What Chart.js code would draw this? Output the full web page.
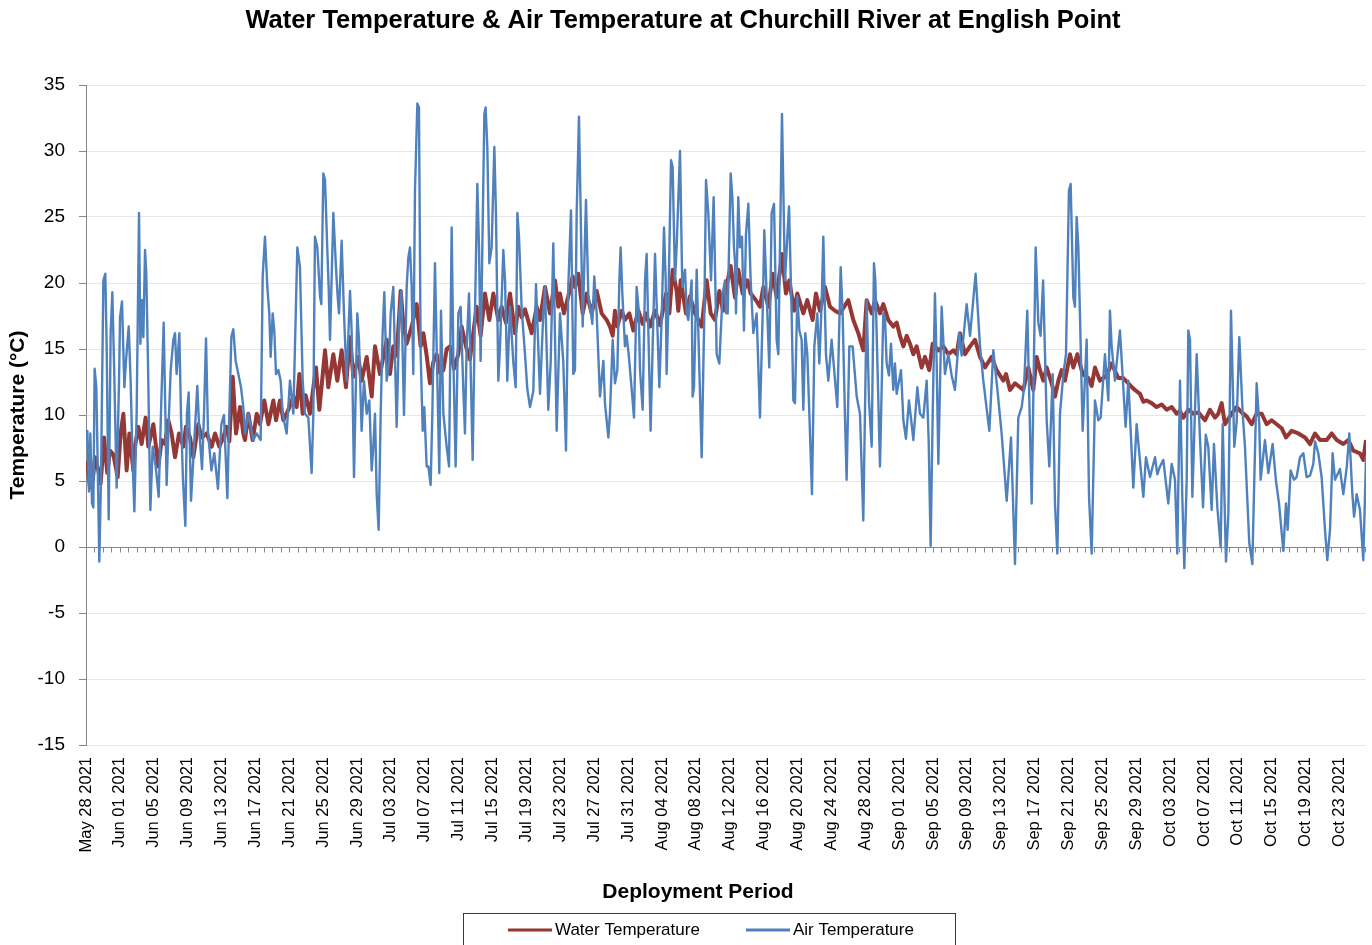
<!DOCTYPE html>
<html>
<head>
<meta charset="utf-8">
<title>Water Temperature & Air Temperature at Churchill River at English Point</title>
<script src="https://cdn.jsdelivr.net/npm/chart.js@4.4.1/dist/chart.umd.min.js"></script>
<style>
  html, body { margin: 0; padding: 0; background: #fff; }
  #wrap { width: 1372px; height: 945px; position: relative; }
</style>
</head>
<body>
<div id="wrap"><canvas id="chart"></canvas></div>
<script>
// ---- data (x = days since May 28 2021 00:00) ----
const tickLabels = [
  'May 28 2021', 'Jun 01 2021', 'Jun 05 2021', 'Jun 09 2021', 'Jun 13 2021', 'Jun 17 2021',
  'Jun 21 2021', 'Jun 25 2021', 'Jun 29 2021', 'Jul 03 2021', 'Jul 07 2021', 'Jul 11 2021',
  'Jul 15 2021', 'Jul 19 2021', 'Jul 23 2021', 'Jul 27 2021', 'Jul 31 2021', 'Aug 04 2021',
  'Aug 08 2021', 'Aug 12 2021', 'Aug 16 2021', 'Aug 20 2021', 'Aug 24 2021', 'Aug 28 2021',
  'Sep 01 2021', 'Sep 05 2021', 'Sep 09 2021', 'Sep 13 2021', 'Sep 17 2021', 'Sep 21 2021',
  'Sep 25 2021', 'Sep 29 2021', 'Oct 03 2021', 'Oct 07 2021', 'Oct 11 2021', 'Oct 15 2021',
  'Oct 19 2021', 'Oct 23 2021'
];
const lastDay = 151.12;

const waterDays = [
  0, 0.28, 0.47, 0.79, 1.06, 1.46, 1.73, 2.13, 2.52, 2.83, 3.23, 3.74, 4.09, 4.41, 4.8, 5.12, 5.59, 5.78, 6.18, 6.57,
  7.04, 7.36, 7.95, 8.54, 8.93, 9.33, 9.72, 10.11, 10.51, 10.98, 11.49, 11.8, 12.28, 12.67, 13.26, 13.66, 14.25, 14.84, 15.23, 15.74,
  16.21, 16.6, 16.92, 17.32, 17.71, 18.18, 18.57, 18.77, 19.16, 19.68, 20.15, 20.54, 21.05, 21.53, 22.12, 22.43, 22.9, 23.3, 23.89, 24.48,
  24.87, 25.19, 25.58, 25.93, 26.44, 27.15, 27.55, 28.22, 28.61, 29.2, 29.67, 30.18, 30.69, 31.17, 31.56, 32.15, 32.54, 33.14, 33.73, 34.12,
  34.71, 35.5, 35.89, 36.28, 36.68, 37.15, 37.46, 37.86, 38.45, 39.04, 39.51, 39.83, 40.22, 40.61, 41.0, 41.4, 41.79, 42.19, 42.58, 42.97,
  43.45, 43.96, 44.35, 44.86, 45.33, 46.12, 46.59, 47.1, 47.62, 48.09, 48.68, 49.07, 49.58, 50.06, 50.65, 51.04, 51.44, 51.83, 52.62, 53.21,
  53.6, 54.19, 54.78, 55.37, 55.76, 55.96, 56.43, 56.94, 57.46, 57.73, 58.12, 58.64, 59.11, 59.7, 60.29, 60.88, 61.47, 61.86, 62.18, 62.45,
  62.73, 63.24, 63.63, 64.15, 64.62, 65.21, 65.72, 66.11, 66.59, 67.18, 67.77, 68.48, 68.87, 69.26, 69.73, 69.93, 70.21, 70.84, 71.31, 71.9,
  72.69, 73.28, 73.75, 74.26, 74.77, 75.2, 75.44, 76.11, 76.62, 77.01, 77.53, 78.08, 78.47, 79.1, 79.57, 79.97, 80.56, 81.07, 81.54, 82.17,
  82.64, 83.04, 83.59, 83.98, 84.69, 85.16, 85.79, 86.18, 86.66, 87.25, 87.84, 88.43, 89.02, 90.0, 90.59, 91.18, 91.77, 92.17, 92.76, 93.15,
  93.74, 94.13, 94.72, 95.31, 95.71, 96.1, 96.5, 96.89, 97.28, 97.68, 98.07, 98.66, 99.05, 99.56, 99.96, 100.63, 101.22, 101.81, 102.4, 102.79,
  103.18, 103.78, 104.37, 104.96, 105.55, 106.14, 106.92, 107.51, 108.3, 108.62, 109.09, 109.68, 110.27, 110.66, 111.25, 111.84, 112.24, 112.63, 113.02, 113.42,
  114.01, 114.4, 114.8, 115.19, 115.58, 116.17, 116.57, 117.04, 117.67, 118.34, 118.73, 119.12, 119.71, 120.5, 121.09, 121.88, 122.47, 123.06, 123.65, 124.04,
  124.44, 124.83, 125.22, 125.81, 126.4, 126.99, 127.58, 128.18, 128.77, 129.16, 129.55, 130.14, 130.73, 131.32, 132.11, 132.7, 133.29, 133.68, 134.08, 134.47,
  135.26, 135.85, 136.44, 137.03, 137.62, 138.21, 138.8, 139.39, 139.98, 140.57, 141.16, 141.67, 142.34, 143.13, 143.92, 144.51, 145.1, 145.69, 146.48, 147.07,
  147.66, 148.44, 149.03, 149.62, 150.41, 150.8, 151.12
];
const waterTemps = [
  6.5, 5.6, 4.5, 5.0, 6.8, 5.8, 4.8, 8.3, 5.6, 7.3, 7.0, 5.3, 8.6, 10.1, 5.8, 8.6, 5.8, 7.6, 9.1, 7.8,
  9.8, 7.6, 9.3, 6.1, 8.1, 7.8, 9.6, 8.6, 6.8, 8.6, 7.6, 9.1, 8.3, 6.8, 9.3, 8.3, 8.6, 7.6, 8.6, 7.6,
  8.3, 9.1, 8.0, 12.9, 8.6, 10.6, 8.6, 8.1, 10.1, 8.1, 10.1, 9.3, 11.1, 9.3, 11.1, 9.6, 11.1, 9.6, 10.4, 11.4,
  10.6, 13.1, 10.1, 11.5, 10.1, 13.6, 10.4, 14.9, 12.1, 14.6, 12.6, 14.9, 12.1, 15.9, 12.9, 14.4, 12.6, 14.4, 11.4, 15.2,
  13.1, 15.7, 13.1, 15.2, 14.5, 19.4, 17.0, 15.4, 16.7, 18.4, 15.2, 16.2, 14.5, 12.4, 14.0, 14.6, 13.2, 13.4, 15.0, 15.2,
  13.5, 14.6, 16.7, 15.2, 14.2, 18.2, 16.0, 19.2, 17.2, 19.2, 17.2, 18.2, 17.0, 19.2, 16.2, 18.2, 17.4, 18.0, 16.2, 18.2,
  17.2, 19.7, 17.7, 20.2, 18.2, 19.2, 17.7, 19.0, 20.5, 19.7, 20.7, 17.7, 19.2, 17.7, 19.4, 17.7, 17.2, 16.7, 16.0, 17.9,
  16.7, 17.9, 17.2, 17.7, 16.4, 17.9, 16.9, 17.7, 16.7, 17.9, 16.8, 19.2, 17.7, 21.0, 19.4, 17.9, 20.2, 17.7, 19.0, 17.7,
  16.7, 20.2, 17.7, 17.2, 19.4, 17.9, 19.2, 21.3, 18.9, 21.0, 19.2, 20.2, 19.2, 18.7, 18.2, 19.7, 18.2, 20.7, 18.9, 22.2,
  19.2, 20.2, 17.9, 19.2, 17.7, 18.7, 17.2, 19.2, 17.9, 19.7, 18.2, 17.9, 17.7, 18.7, 17.2, 16.2, 14.9, 18.7, 17.7, 18.7,
  17.7, 18.4, 17.2, 16.7, 17.0, 16.0, 15.2, 16.0, 15.4, 14.6, 15.2, 13.6, 14.4, 13.4, 15.4, 14.9, 15.2, 14.6, 14.9, 14.6,
  16.2, 14.6, 15.2, 15.7, 14.4, 13.6, 14.4, 13.4, 12.6, 13.1, 11.9, 12.4, 12.1, 11.9, 13.6, 11.9, 14.4, 13.4, 12.6, 13.6,
  12.4, 11.4, 12.6, 13.4, 12.6, 14.6, 13.6, 14.6, 13.1, 12.8, 12.2, 13.6, 12.6, 13.0, 13.9, 12.8, 12.8, 12.4, 12.0, 11.8,
  11.6, 11.0, 11.1, 10.9, 10.6, 10.8, 10.4, 10.6, 10.1, 10.3, 9.8, 10.4, 10.1, 10.2, 9.6, 10.4, 9.8, 10.1, 10.9, 9.3,
  10.1, 10.6, 10.2, 9.9, 9.3, 10.1, 10.1, 9.3, 9.6, 9.3, 9.0, 8.3, 8.8, 8.6, 8.3, 7.8, 8.6, 8.1, 8.1, 8.6,
  8.1, 7.8, 8.1, 7.3, 7.1, 6.6, 8.1
];

const airDays = [
  0, 0.16, 0.35, 0.51, 0.71, 0.87, 1.02, 1.22, 1.38, 1.57, 1.77, 2.05, 2.28, 2.44, 2.68, 2.91, 3.11, 3.31, 3.62, 3.9,
  4.02, 4.25, 4.53, 4.72, 5.04, 5.27, 5.51, 5.71, 5.98, 6.26, 6.42, 6.61, 6.77, 6.97, 7.12, 7.32, 7.6, 7.87, 8.23, 8.58,
  8.85, 9.17, 9.37, 9.52, 9.8, 10.0, 10.31, 10.51, 10.7, 11.02, 11.22, 11.45, 11.73, 11.92, 12.12, 12.4, 12.75, 13.14, 13.38, 13.7,
  13.93, 14.17, 14.4, 14.8, 15.15, 15.58, 15.98, 16.29, 16.69, 16.92, 17.16, 17.39, 17.67, 17.98, 18.3, 18.57, 18.77, 19.16, 19.75, 20.15,
  20.62, 20.86, 21.13, 21.41, 21.64, 21.8, 22.04, 22.23, 22.43, 22.71, 22.98, 23.22, 23.69, 24.08, 24.48, 24.95, 25.26, 25.58, 25.85, 26.25,
  26.64, 26.84, 27.03, 27.31, 27.63, 27.78, 28.02, 28.22, 28.49, 28.65, 28.81, 29.2, 29.51, 29.71, 29.87, 30.18, 30.46, 30.77, 31.17, 31.36,
  31.64, 32.03, 32.23, 32.54, 32.82, 33.14, 33.45, 33.73, 33.92, 34.12, 34.32, 34.55, 34.79, 35.02, 35.22, 35.5, 35.77, 35.97, 36.28, 36.68,
  36.99, 37.23, 37.54, 37.86, 38.05, 38.25, 38.45, 38.64, 38.84, 39.12, 39.31, 39.51, 39.75, 39.94, 40.22, 40.42, 40.69, 40.89, 41.2, 41.4,
  41.71, 41.91, 42.19, 42.58, 42.86, 43.17, 43.37, 43.64, 43.96, 44.23, 44.55, 44.74, 44.94, 45.22, 45.65, 45.92, 46.2, 46.4, 46.59, 47.03,
  47.18, 47.38, 47.62, 47.89, 48.21, 48.4, 48.68, 48.88, 49.27, 49.47, 49.74, 50.06, 50.45, 50.73, 50.93, 51.12, 51.44, 51.83, 52.1, 52.42,
  52.81, 53.13, 53.6, 53.99, 54.19, 54.58, 54.86, 55.17, 55.57, 55.96, 56.35, 56.67, 56.94, 57.26, 57.53, 57.73, 57.93, 58.2, 58.44, 58.64,
  59.03, 59.31, 59.58, 59.78, 60.01, 60.29, 60.68, 61.08, 61.27, 61.67, 61.86, 62.18, 62.45, 62.73, 62.97, 63.12, 63.32, 63.63, 63.83, 64.07,
  64.34, 64.7, 65.01, 65.25, 65.41, 65.72, 66.0, 66.19, 66.66, 66.9, 67.18, 67.69, 67.96, 68.24, 68.44, 68.55, 68.75, 69.07, 69.26, 69.54,
  69.73, 70.13, 70.4, 70.72, 70.92, 71.11, 71.5, 71.62, 71.78, 72.1, 72.69, 73.0, 73.2, 73.47, 73.79, 74.1, 74.46, 74.77, 75.16, 75.44,
  75.56, 75.76, 76.11, 76.31, 76.5, 76.62, 76.74, 77.01, 77.21, 77.45, 77.68, 77.92, 78.2, 78.47, 78.79, 79.18, 79.57, 79.89, 80.08, 80.44,
  80.67, 80.95, 81.23, 81.54, 81.74, 82.17, 82.52, 83.0, 83.31, 83.51, 83.7, 83.98, 84.22, 84.49, 84.69, 84.92, 85.16, 85.4, 85.71, 85.99,
  86.34, 86.58, 86.85, 87.05, 87.36, 87.64, 88.03, 88.7, 89.1, 89.33, 89.61, 89.8, 90.12, 90.51, 90.99, 91.38, 91.77, 92.17, 92.44, 92.76,
  93.03, 93.19, 93.74, 94.13, 94.33, 94.53, 94.8, 95.04, 95.31, 95.51, 95.71, 96.22, 96.5, 96.81, 97.16, 97.48, 97.68, 98.15, 98.46, 98.86,
  99.25, 99.49, 99.72, 99.96, 100.23, 100.43, 100.63, 101.02, 101.41, 101.81, 102.2, 102.59, 103.1, 103.38, 103.97, 104.37, 105.03, 105.55, 105.94, 106.33,
  106.65, 107.12, 107.59, 108.1, 108.7, 109.21, 109.68, 110.07, 110.47, 110.74, 111.13, 111.65, 112.12, 112.43, 112.7, 113.0, 113.42, 113.73, 114.13, 114.4,
  114.68, 114.99, 115.39, 115.7, 116.05, 116.25, 116.57, 116.76, 116.96, 117.16, 117.67, 118.14, 118.42, 118.73, 119.12, 119.52, 119.79, 120.3, 120.7, 120.89,
  121.09, 121.48, 122.07, 122.74, 123.06, 123.65, 124.04, 124.44, 124.83, 125.14, 125.62, 126.21, 126.48, 126.8, 127.19, 127.78, 128.18, 128.57, 128.84, 129.16,
  129.43, 129.67, 129.95, 130.14, 130.34, 130.62, 131.13, 131.5, 131.88, 132.2, 132.5, 132.9, 133.17, 133.57, 133.96, 134.2, 134.59, 134.87, 135.18, 135.57,
  135.85, 136.16, 136.56, 136.83, 137.34, 137.7, 137.93, 138.21, 138.52, 138.68, 139.19, 139.59, 140.1, 140.49, 140.85, 141.36, 141.67, 141.87, 142.22, 142.62,
  142.93, 143.33, 143.72, 144.11, 144.51, 144.9, 145.1, 145.49, 145.88, 146.28, 146.55, 146.87, 147.18, 147.46, 148.05, 148.44, 148.84, 149.15, 149.51, 149.71,
  150.02, 150.41, 150.8, 151.12
];
const airTemps = [
  8.0, 8.8, 4.2, 8.6, 3.3, 3.0, 13.5, 12.1, 6.3, -1.1, 5.1, 20.2, 20.7, 15.2, 2.1, 16.2, 19.3, 13.9, 4.5, 12.6,
  17.4, 18.6, 12.1, 14.1, 16.7, 12.6, 6.3, 2.7, 10.1, 25.3, 15.4, 18.7, 15.9, 22.5, 20.7, 13.9, 2.8, 7.6, 6.1, 3.8,
  10.1, 17.0, 10.1, 4.7, 10.1, 13.4, 15.7, 16.2, 13.1, 16.2, 9.8, 5.1, 1.6, 10.1, 11.7, 3.5, 7.6, 12.2, 8.8, 5.9,
  10.1, 15.8, 8.8, 5.8, 7.1, 4.4, 9.3, 10.0, 3.7, 10.1, 15.9, 16.5, 14.1, 13.1, 12.1, 10.6, 8.6, 10.1, 8.1, 8.6,
  8.1, 20.5, 23.5, 19.7, 17.7, 14.4, 17.7, 16.4, 13.1, 13.4, 12.6, 10.1, 8.6, 12.6, 10.1, 22.7, 21.2, 12.6, 10.1, 9.8,
  5.6, 10.1, 23.5, 22.7, 19.0, 18.4, 28.3, 27.8, 22.5, 19.7, 15.7, 25.3, 21.2, 19.0, 17.7, 23.2, 17.7, 12.6, 19.4, 16.4,
  5.3, 17.7, 15.7, 8.8, 12.6, 10.1, 11.1, 5.8, 7.6, 10.1, 4.0, 1.3, 10.1, 16.2, 19.3, 12.6, 13.9, 17.7, 19.7, 9.1,
  17.7, 19.4, 10.0, 19.7, 21.9, 22.7, 19.7, 13.1, 27.0, 33.6, 33.3, 14.6, 8.8, 10.6, 6.1, 6.1, 4.7, 10.1, 21.5, 15.2,
  5.6, 17.9, 10.1, 7.6, 6.1, 24.2, 14.4, 6.1, 17.7, 18.2, 11.9, 8.6, 15.2, 19.2, 6.6, 17.7, 27.5, 22.7, 14.1, 32.8,
  33.3, 30.3, 21.5, 22.7, 30.3, 25.3, 12.6, 15.2, 22.5, 20.2, 12.6, 18.2, 14.0, 12.1, 25.3, 23.5, 18.0, 14.6, 12.0, 10.6,
  11.8, 19.9, 11.6, 17.7, 19.7, 10.4, 14.0, 23.0, 8.8, 17.7, 14.0, 7.3, 19.7, 25.5, 13.1, 13.4, 25.3, 32.6, 24.0, 16.7,
  26.3, 19.0, 17.9, 16.9, 20.5, 17.7, 11.4, 14.1, 10.9, 8.3, 10.1, 15.7, 12.4, 13.4, 20.2, 22.7, 19.2, 15.2, 16.0, 14.6,
  12.6, 9.8, 19.7, 18.0, 13.4, 10.4, 20.2, 22.2, 8.8, 15.2, 22.2, 12.1, 17.2, 24.2, 20.2, 13.1, 18.2, 29.3, 28.8, 20.2,
  22.7, 30.0, 19.7, 21.0, 17.7, 17.2, 20.2, 11.4, 12.1, 21.0, 6.8, 17.7, 27.8, 25.3, 20.2, 26.5, 14.6, 13.9, 19.2, 20.2,
  17.7, 17.7, 28.3, 26.5, 22.7, 21.7, 17.7, 26.5, 22.7, 23.5, 16.4, 23.7, 26.0, 20.2, 16.2, 17.7, 9.8, 17.7, 24.0, 17.7,
  13.6, 25.3, 26.0, 15.7, 14.6, 32.8, 20.2, 25.8, 17.7, 11.1, 10.9, 19.0, 16.4, 15.7, 10.4, 16.2, 14.6, 10.1, 4.0, 15.2,
  17.7, 13.9, 18.4, 23.5, 14.6, 12.6, 15.7, 10.6, 21.2, 17.7, 9.8, 5.1, 15.2, 15.2, 11.4, 10.1, 2.0, 18.7, 11.1, 7.6,
  21.5, 20.2, 6.1, 17.7, 17.4, 13.9, 13.0, 15.4, 11.9, 13.9, 11.6, 13.4, 9.6, 8.2, 11.1, 9.3, 8.1, 12.1, 10.1, 9.8,
  12.6, 8.0, 0.1, 10.0, 19.2, 14.0, 6.3, 18.2, 13.1, 14.6, 13.0, 11.9, 16.2, 14.5, 18.4, 16.0, 20.7, 15.2, 12.6, 10.5,
  8.8, 14.9, 12.0, 8.6, 3.5, 8.3, -1.3, 9.8, 10.6, 12.0, 17.9, 3.3, 22.7, 17.0, 16.0, 20.2, 9.6, 6.1, 13.1, 3.3,
  -0.5, 10.1, 13.1, 14.6, 27.0, 27.5, 18.9, 18.2, 25.0, 22.7, 8.8, 15.7, 3.8, -0.5, 11.1, 9.6, 9.8, 14.6, 11.1, 17.9,
  15.2, 12.6, 16.4, 9.1, 12.6, 4.5, 9.3, 6.5, 3.8, 6.8, 5.3, 6.8, 5.5, 6.1, 6.6, 3.3, 6.3, 5.1, -0.5, 12.6,
  3.8, -1.6, 5.1, 16.4, 15.7, 3.8, 14.6, 8.5, 3.0, 8.5, 7.6, 2.8, 7.8, 3.0, 0.0, 9.3, -1.1, 2.5, 17.9, 7.6,
  9.5, 15.9, 10.1, 7.6, 0.3, -1.3, 5.1, 12.4, 9.3, 5.1, 8.1, 5.6, 7.8, 5.0, 3.3, -0.3, 3.3, 1.3, 5.8, 5.1,
  5.3, 6.8, 7.1, 5.3, 5.4, 6.3, 8.0, 7.1, 5.3, 1.3, -1.0, 1.3, 7.1, 5.1, 5.9, 4.0, 6.0, 8.6, 4.0, 2.3,
  4.0, 2.8, -1.0, 6.8
];

const yTicks = { min: -15, max: 35, step: 5 };
const xTitle = 'Deployment Period';

// ---- styling ----
const FONT = "'Liberation Sans', Arial, Helvetica, sans-serif";
const waterColor = '#953735';
const airColor = '#4f81bd';
const axisGray = '#878787';

// 0-line with a small tick for every day (Excel draws the category axis at y = 0)
const zeroAxis = {
  id: 'zeroAxis',
  beforeDatasetsDraw(chart) {
    const { ctx, chartArea: a, scales: { x, y } } = chart;
    const y0 = Math.round(y.getPixelForValue(0)) + 0.5;
    ctx.save();
    ctx.strokeStyle = axisGray;
    ctx.lineWidth = 1;
    ctx.beginPath();
    ctx.moveTo(a.left, y0);
    ctx.lineTo(a.right, y0);
    for (let d = 1; d <= Math.floor(x.max); d++) {
      const px = Math.round(x.getPixelForValue(d)) + 0.5;
      ctx.moveTo(px, y0);
      ctx.lineTo(px, y0 + 5);
    }
    ctx.stroke();
    ctx.restore();
  }
};

// x-axis title and the framed legend underneath, placed like the Excel original
const bottomBlock = {
  id: 'bottomBlock',
  afterDraw(chart) {
    const ctx = chart.ctx;
    ctx.save();
    ctx.fillStyle = '#000';
    ctx.textAlign = 'center';
    ctx.textBaseline = 'middle';
    ctx.font = 'bold 21px ' + FONT;
    ctx.fillText(xTitle, 698, 892);

    // legend frame
    ctx.strokeStyle = '#3a3a3a';
    ctx.lineWidth = 1;
    ctx.strokeRect(463.5, 913.5, 492, 40);

    // legend entries: water first, then air
    const order = [1, 0];
    const startX = [508, 746];
    ctx.font = '17px ' + FONT;
    ctx.textAlign = 'left';
    order.forEach((di, k) => {
      const ds = chart.data.datasets[di];
      ctx.strokeStyle = ds.borderColor;
      ctx.lineWidth = 3;
      ctx.beginPath();
      ctx.moveTo(startX[k], 930);
      ctx.lineTo(startX[k] + 44, 930);
      ctx.stroke();
      ctx.fillStyle = '#000';
      ctx.fillText(ds.label, startX[k] + 47, 930);
    });
    ctx.restore();
  }
};

const toPoints = (days, temps) => days.map((d, i) => ({ x: d, y: temps[i] }));

new Chart(document.getElementById('chart'), {
  type: 'line',
  data: {
    datasets: [
      {
        label: 'Air Temperature',
        data: toPoints(airDays, airTemps),
        borderColor: airColor,
        backgroundColor: airColor,
        borderWidth: 2.4,
        pointRadius: 0,
        tension: 0,
        borderJoinStyle: 'round'
      },
      {
        label: 'Water Temperature',
        data: toPoints(waterDays, waterTemps),
        borderColor: waterColor,
        backgroundColor: waterColor,
        borderWidth: 4,
        pointRadius: 0,
        tension: 0,
        borderJoinStyle: 'round'
      }
    ]
  },
  options: {
    responsive: true,
    maintainAspectRatio: false,
    animation: false,
    layout: { padding: { left: 0, right: 6, top: 0, bottom: 0 } },
    plugins: {
      title: {
        display: true,
        text: 'Water Temperature & Air Temperature at Churchill River at English Point',
        color: '#000',
        font: { family: FONT, size: 25.5, weight: 'bold' },
        padding: { top: 6, bottom: 48.4 }
      },
      legend: { display: false },
      tooltip: { enabled: false }
    },
    scales: {
      x: {
        type: 'linear',
        min: 0,
        max: lastDay,
        afterFit(scale) { scale.height = 200; },
        afterBuildTicks(scale) { scale.ticks = tickLabels.map((_, k) => ({ value: k * 4 })); },
        grid: { display: false, drawTicks: false },
        border: { display: false },
        ticks: {
          autoSkip: false,
          maxRotation: 90,
          minRotation: 90,
          padding: 12,
          color: '#000',
          font: { family: FONT, size: 16.5 },
          callback: (v) => tickLabels[Math.round(v / 4)] || ''
        }
      },
      y: {
        min: yTicks.min,
        max: yTicks.max,
        afterFit(scale) { scale.width = 86; },
        grid: { color: '#e6e6e6', lineWidth: 1, tickColor: axisGray, tickLength: 7 },
        border: { display: true, color: axisGray, width: 1 },
        ticks: {
          stepSize: yTicks.step,
          padding: 14,
          color: '#000',
          font: { family: FONT, size: 19 }
        },
        title: {
          display: true,
          text: 'Temperature (°C)',
          color: '#000',
          font: { family: FONT, size: 21, weight: 'bold' },
          padding: { top: 6, bottom: 0 }
        }
      }
    }
  },
  plugins: [zeroAxis, bottomBlock]
});
</script>
</body>
</html>
